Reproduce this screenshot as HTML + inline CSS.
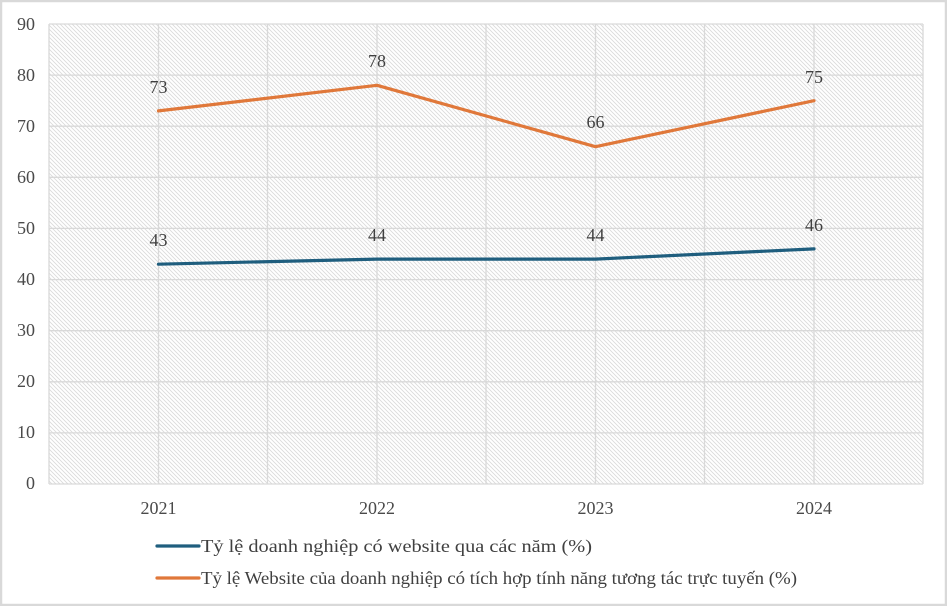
<!DOCTYPE html>
<html><head><meta charset="utf-8"><style>
html,body{margin:0;padding:0;background:#fff;}
svg{display:block;}
text{font-family:"Liberation Serif","Times New Roman",serif;}
</style></head><body>
<svg width="947" height="606" viewBox="0 0 947 606" xmlns="http://www.w3.org/2000/svg">
<defs>
<pattern id="h" width="4" height="4" patternUnits="userSpaceOnUse">
<rect width="4" height="4" fill="#fff"/>
<path d="M0,0 L4,4 M-1,3 L1,5 M3,-1 L5,1" stroke="#d9d9d9" stroke-width="0.8"/>
</pattern>
</defs>
<rect x="1" y="1" width="945" height="604" fill="#fff" stroke="#d9d9d9" stroke-width="2.5"/>
<rect x="49" y="24" width="874" height="460" fill="url(#h)"/>
<g stroke="#d9d9d9" stroke-width="1.3" fill="none">
<line x1="49" y1="24" x2="923" y2="24"/>
<line x1="49" y1="75.1" x2="923" y2="75.1"/>
<line x1="49" y1="126.2" x2="923" y2="126.2"/>
<line x1="49" y1="177.3" x2="923" y2="177.3"/>
<line x1="49" y1="228.4" x2="923" y2="228.4"/>
<line x1="49" y1="279.6" x2="923" y2="279.6"/>
<line x1="49" y1="330.7" x2="923" y2="330.7"/>
<line x1="49" y1="381.8" x2="923" y2="381.8"/>
<line x1="49" y1="432.9" x2="923" y2="432.9"/>
<line x1="49" y1="484" x2="923" y2="484"/>
<line x1="49" y1="24" x2="49" y2="484"/>
<line x1="158.5" y1="24" x2="158.5" y2="484"/>
<line x1="267.5" y1="24" x2="267.5" y2="484"/>
<line x1="377" y1="24" x2="377" y2="484"/>
<line x1="486" y1="24" x2="486" y2="484"/>
<line x1="595.5" y1="24" x2="595.5" y2="484"/>
<line x1="704.5" y1="24" x2="704.5" y2="484"/>
<line x1="814" y1="24" x2="814" y2="484"/>
<line x1="923" y1="24" x2="923" y2="484"/>
</g>
<g fill="#4a4a4a" font-size="18" text-anchor="end">
<text x="35" y="30">90</text>
<text x="35" y="81">80</text>
<text x="35" y="132">70</text>
<text x="35" y="183">60</text>
<text x="35" y="234">50</text>
<text x="35" y="285">40</text>
<text x="35" y="336">30</text>
<text x="35" y="387">20</text>
<text x="35" y="438">10</text>
<text x="35" y="489">0</text>
</g>
<g fill="#4a4a4a" font-size="18" text-anchor="middle">
<text x="158.5" y="514">2021</text>
<text x="377" y="514">2022</text>
<text x="595.5" y="514">2023</text>
<text x="814" y="514">2024</text>
</g>
<polyline points="158.5,264.2 377,259.1 595.5,259.1 814,248.9" fill="none" stroke="#1F5E7E" stroke-width="3.2" stroke-linejoin="round" stroke-linecap="round"/>
<polyline points="158.5,110.9 377,85.3 595.5,146.7 814,100.7" fill="none" stroke="#E0783A" stroke-width="3.2" stroke-linejoin="round" stroke-linecap="round"/>
<g fill="#404040" font-size="18" text-anchor="middle">
<text x="158.5" y="246">43</text>
<text x="377" y="241">44</text>
<text x="595.5" y="241">44</text>
<text x="814" y="231">46</text>
<text x="158.5" y="93">73</text>
<text x="377" y="67">78</text>
<text x="595.5" y="128">66</text>
<text x="814" y="83">75</text>
</g>
<line x1="157" y1="546" x2="199" y2="546" stroke="#1F5E7E" stroke-width="3.2" stroke-linecap="round"/>
<line x1="157" y1="578" x2="199" y2="578" stroke="#E0783A" stroke-width="3.2" stroke-linecap="round"/>
<g fill="#404040" font-size="18">
<text x="201" y="552" textLength="391" lengthAdjust="spacingAndGlyphs">Tỷ lệ doanh nghiệp  có website qua các năm (%)</text>
<text x="201" y="584" textLength="596" lengthAdjust="spacingAndGlyphs">Tỷ lệ  Website của doanh nghiệp  có tích hợp tính năng tương tác trực tuyến  (%)</text>
</g>
</svg>
</body></html>
